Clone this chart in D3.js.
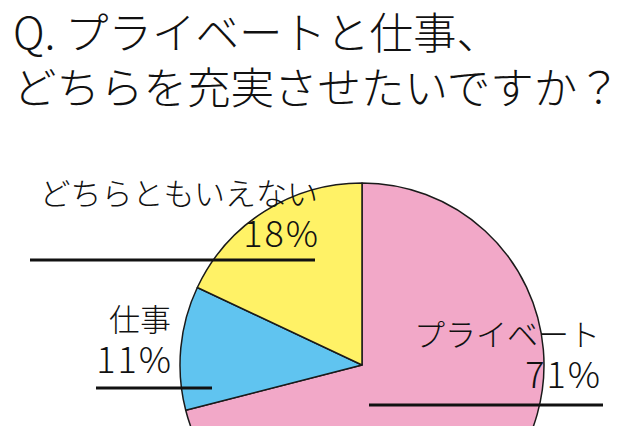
<!DOCTYPE html>
<html>
<head>
<meta charset="utf-8">
<script src="https://cdn.jsdelivr.net/npm/d3@7"></script>
<style>
  body { margin: 0; background: #fff; }
  svg { display: block; font-family: "Noto Sans CJK JP", "Noto Sans", sans-serif; }
</style>
</head>
<body>
<div id="chart"></div>
<script>
// data
var titleLines = ["Q. プライベートと仕事、", "どちらを充実させたいですか？"];
var categories = ["プライベート", "仕事", "どちらともいえない"];
var values = [71, 11, 18];
var colors = ["#f2a8c8", "#60c4f0", "#fff266"];

// layout
var width = 639,
    height = 426,
    cx = 362,
    cy = 365,
    radius = 182;

// label placement for each slice: text right edge, name baseline, line
var labelPos = {
  "プライベート":     {x: 600, y: 346, x1: 369, x2: 603, ly: 405},
  "仕事":             {x: 171, y: 331, x1: 96,  x2: 212, ly: 388},
  "どちらともいえない": {x: 318, y: 205, x1: 30,  x2: 315, ly: 260}
};

var svg = d3.select("#chart").append("svg")
    .attr("width", width)
    .attr("height", height);

// title
svg.selectAll(".title")
    .data(titleLines)
  .enter().append("text")
    .attr("class", "title")
    .attr("x", 13)
    .attr("y", function(d, i){ return 49 + i * 55; })
    .style("font-size", "43.5px")
    .style("font-weight", 300)
    .style("fill", "#111")
    .text(function(d){ return d; });

var data = categories.map(function(c, i){
    return {name: c, value: values[i], color: colors[i]};
});

var pie = d3.pie()
    .sort(null)
    .value(function(d){ return d.value; });

var arc = d3.arc()
    .innerRadius(0)
    .outerRadius(radius);

var g = svg.append("g")
    .attr("transform", "translate(" + cx + "," + cy + ")");

g.selectAll(".slice")
    .data(pie(data))
  .enter().append("path")
    .attr("class", "slice")
    .attr("d", arc)
    .style("fill", function(d){ return d.data.color; })
    .style("stroke", "#1a1a1a")
    .style("stroke-width", 1.5)
    .style("stroke-linejoin", "round");

// labels
var lab = svg.selectAll(".label")
    .data(data)
  .enter().append("g")
    .attr("class", "label");

lab.append("line")
    .attr("x1", function(d){ return labelPos[d.name].x1; })
    .attr("x2", function(d){ return labelPos[d.name].x2; })
    .attr("y1", function(d){ return labelPos[d.name].ly; })
    .attr("y2", function(d){ return labelPos[d.name].ly; })
    .style("stroke", "#111")
    .style("stroke-width", 3);

lab.append("text")
    .attr("x", function(d){ return labelPos[d.name].x; })
    .attr("y", function(d){ return labelPos[d.name].y; })
    .attr("text-anchor", "end")
    .style("font-size", "31px")
    .style("font-weight", 300)
    .style("fill", "#111")
    .text(function(d){ return d.name; });

lab.append("text")
    .attr("x", function(d){ return labelPos[d.name].x + 2; })
    .attr("y", function(d){ return labelPos[d.name].y + 42; })
    .attr("text-anchor", "end")
    .style("font-size", "36px")
    .style("font-weight", 300)
    .style("letter-spacing", "2px")
    .style("fill", "#111")
    .text(function(d){ return d.value + "%"; });
</script>
</body>
</html>
